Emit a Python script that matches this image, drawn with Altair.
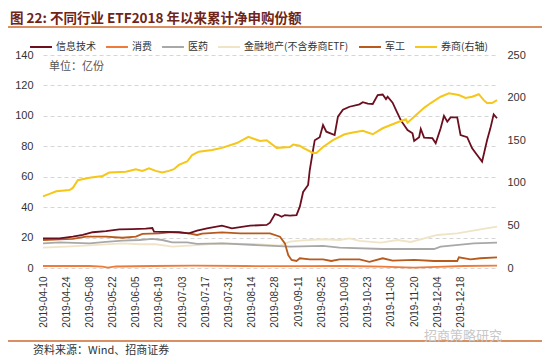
import altair as alt
import pandas as pd

SERIES = ["信息技术", "消费", "医药", "金融地产(不含券商ETF)", "军工", "券商(右轴)"]
COLORS = ["#6B0E1E", "#EE7B3A", "#A8A8A8", "#EFE4C6", "#B85A1C", "#F6C619"]

X_START = "2019-04-10"
X_END = "2020-01-09"
TICK_DATES = ["2019-04-10", "2019-04-24", "2019-05-08", "2019-05-22", "2019-06-05",
              "2019-06-19", "2019-07-03", "2019-07-17", "2019-07-31", "2019-08-14",
              "2019-08-28", "2019-09-11", "2019-09-25", "2019-10-09", "2019-10-23",
              "2019-11-06", "2019-11-20", "2019-12-04", "2019-12-18"]
LEFT_TICKS = [0, 20, 40, 60, 80, 100, 120, 140]
RIGHT_TICKS = [0, 50, 100, 150, 200, 250]

it_dates = ["2019-04-10", "2019-04-20", "2019-04-28", "2019-05-04", "2019-05-10",
            "2019-05-18", "2019-05-26", "2019-06-03", "2019-06-11", "2019-06-15",
            "2019-06-16", "2019-06-23", "2019-07-01", "2019-07-07", "2019-07-12",
            "2019-07-18", "2019-07-27", "2019-08-02", "2019-08-13", "2019-08-23",
            "2019-08-25", "2019-08-28", "2019-08-30", "2019-09-01", "2019-09-03",
            "2019-09-06", "2019-09-10", "2019-09-12", "2019-09-14", "2019-09-17",
            "2019-09-18", "2019-09-20", "2019-09-21", "2019-09-24", "2019-09-26",
            "2019-09-28", "2019-10-03", "2019-10-05", "2019-10-08", "2019-10-12",
            "2019-10-18", "2019-10-20", "2019-10-23", "2019-10-26", "2019-10-29",
            "2019-11-01", "2019-11-03", "2019-11-04", "2019-11-07", "2019-11-09",
            "2019-11-12", "2019-11-16", "2019-11-19", "2019-11-20", "2019-11-23",
            "2019-11-24", "2019-11-26", "2019-12-01", "2019-12-03", "2019-12-06",
            "2019-12-08", "2019-12-10", "2019-12-12", "2019-12-16", "2019-12-18",
            "2019-12-22", "2019-12-25", "2019-12-28", "2019-12-31", "2020-01-03",
            "2020-01-05", "2020-01-07", "2020-01-09"]
it_vals = [19.5, 19.5, 20.6, 21.7, 23.5,
           24.3, 25.4, 25.6, 25.9, 26.3,
           23.9, 23.7, 23.5, 22.8, 24.5,
           26.1, 27.8, 26.1, 27.8, 28.3,
           29.8, 35.5, 34.8, 33.7, 34.8,
           34.4, 34.8, 40.3, 50.0, 54.6,
           64.4, 77.6, 84.0, 86.0, 94.0,
           89.6, 87.4, 99.5, 104.0, 106.0,
           107.6, 109.0, 108.0, 107.8, 113.7,
           114.0, 111.0, 112.6, 108.7, 104.0,
           97.0, 90.7, 88.5, 83.5, 86.0,
           91.4, 85.7, 85.3, 82.0, 91.8,
           100.0, 96.2, 99.0, 99.0, 87.4,
           86.0, 78.7, 74.3, 69.9, 84.0,
           91.8, 101.0, 98.4]

xf_dates = ["2019-04-10", "2019-05-08", "2019-05-16", "2019-05-19", "2019-05-24",
            "2019-06-15", "2019-07-10", "2019-08-10", "2019-09-10", "2019-10-10",
            "2019-11-01", "2019-11-14", "2019-11-20", "2019-12-04", "2019-12-20",
            "2020-01-09"]
xf_vals = [1.3, 1.3, 0.9, 0.3, 1.0,
           1.3, 1.5, 1.3, 1.2, 1.3,
           0.9, 0.4, 0.2, 0.8, 1.3,
           1.5]

yy_dates = ["2019-04-10", "2019-04-20", "2019-05-08", "2019-05-18", "2019-05-28",
            "2019-06-07", "2019-06-15", "2019-06-21", "2019-06-27", "2019-07-06",
            "2019-07-12", "2019-07-27", "2019-08-17", "2019-09-06", "2019-09-26",
            "2019-10-06", "2019-11-01", "2019-12-02", "2019-12-06", "2019-12-26",
            "2020-01-09"]
yy_vals = [16.2, 16.9, 16.2, 17.2, 18.0,
           18.4, 19.1, 18.4, 16.9, 16.9,
           15.8, 16.2, 15.1, 14.0, 14.5,
           13.4, 12.5, 12.5, 14.0, 16.2,
           16.7]

jr_dates = ["2019-04-10", "2019-04-24", "2019-05-08", "2019-05-28", "2019-06-07",
            "2019-06-17", "2019-06-27", "2019-07-07", "2019-07-12", "2019-07-27",
            "2019-08-17", "2019-08-31", "2019-09-06", "2019-09-12", "2019-09-26",
            "2019-10-06", "2019-10-12", "2019-10-18", "2019-10-31", "2019-11-10",
            "2019-11-18", "2019-12-04", "2019-12-16", "2019-12-30", "2020-01-09"]
jr_vals = [13.4, 14.0, 14.9, 16.2, 15.6,
           15.6, 14.0, 14.7, 15.1, 16.2,
           15.6, 14.7, 17.3, 18.0, 18.9,
           18.4, 19.5, 17.8, 16.7, 18.4,
           17.1, 21.7, 22.8, 25.4, 27.2]

jg_dates = ["2019-04-10", "2019-04-20", "2019-04-28", "2019-05-06", "2019-05-18",
            "2019-05-28", "2019-06-05", "2019-06-09", "2019-06-19", "2019-06-25",
            "2019-07-01", "2019-07-07", "2019-07-12", "2019-07-15", "2019-07-27",
            "2019-08-07", "2019-08-17", "2019-08-25", "2019-08-31", "2019-09-03",
            "2019-09-05", "2019-09-07", "2019-09-10", "2019-09-12", "2019-09-18",
            "2019-09-26", "2019-10-01", "2019-10-06", "2019-10-18", "2019-10-24",
            "2019-11-01", "2019-11-07", "2019-11-20", "2019-12-02", "2019-12-16",
            "2019-12-17", "2019-12-24", "2019-12-30", "2020-01-09"]
jg_vals = [18.4, 18.9, 19.1, 20.6, 20.6,
           19.9, 20.6, 22.4, 22.8, 23.4,
           23.4, 22.8, 21.7, 22.6, 23.4,
           22.8, 22.8, 22.8, 20.6, 16.2,
           8.5, 5.3, 4.6, 6.4, 5.7,
           5.7, 4.6, 5.7, 5.7, 4.1,
           6.4, 4.8, 5.3, 4.6, 4.6,
           7.0, 5.7, 6.4, 7.0]

qs_dates = ["2019-04-10", "2019-04-14", "2019-04-18", "2019-04-26", "2019-04-28",
            "2019-05-01", "2019-05-08", "2019-05-16", "2019-05-20", "2019-05-30",
            "2019-06-05", "2019-06-09", "2019-06-13", "2019-06-17", "2019-06-21",
            "2019-06-25", "2019-06-28", "2019-07-01", "2019-07-06", "2019-07-09",
            "2019-07-13", "2019-07-21", "2019-07-27", "2019-08-05", "2019-08-12",
            "2019-08-19", "2019-08-23", "2019-08-29", "2019-09-06", "2019-09-08",
            "2019-09-12", "2019-09-14", "2019-09-20", "2019-09-22", "2019-09-26",
            "2019-10-02", "2019-10-09", "2019-10-14", "2019-10-20", "2019-10-26",
            "2019-11-01", "2019-11-10", "2019-11-15", "2019-11-16", "2019-11-20",
            "2019-11-26", "2019-11-30", "2019-12-06", "2019-12-11", "2019-12-17",
            "2019-12-21", "2019-12-25", "2019-12-29", "2020-01-01", "2020-01-03",
            "2020-01-06", "2020-01-09"]
qs_vals = [84.0, 87.0, 90.0, 91.5, 94.0,
           103.0, 106.0, 108.0, 112.0, 113.0,
           116.0, 114.0, 117.0, 114.0, 112.0,
           114.0, 116.0, 121.0, 125.0, 132.6,
           136.5, 138.5, 141.0, 146.7, 154.0,
           149.0, 150.0, 141.0, 142.0, 145.0,
           143.5, 141.0, 135.0, 135.0, 142.0,
           150.0, 157.0, 159.0, 161.0, 157.0,
           164.0, 171.0, 174.5, 170.5, 177.6,
           188.0, 193.6, 201.0, 205.0, 203.0,
           199.5, 201.0, 204.0, 197.0, 193.6,
           193.6, 197.0]

TITLE = "图 22:  不同行业 ETF2018 年以来累计净申购份额"
UNIT = "单位：亿份"
SOURCE = "资料来源：Wind、招商证券"
WATERMARK = "招商策略研究"


def ms(dates):
    """UTC milliseconds for ISO date strings."""
    return [int(pd.Timestamp(d, tz="UTC").value // 1_000_000) for d in dates]


# ---------------- data frames ----------------
left_parts = []
for name, d, v in [(SERIES[3], jr_dates, jr_vals), (SERIES[2], yy_dates, yy_vals),
                   (SERIES[1], xf_dates, xf_vals), (SERIES[4], jg_dates, jg_vals),
                   (SERIES[0], it_dates, it_vals)]:
    left_parts.append(pd.DataFrame({"t": ms(d), "value": v, "series": name}))
left_df = pd.concat(left_parts, ignore_index=True)
right_df = pd.DataFrame({"t": ms(qs_dates), "value": qs_vals, "series": SERIES[5]})

color_scale = alt.Scale(domain=SERIES, range=COLORS)
legend = alt.Legend(title=None, orient="none", legendX=-14, legendY=-20,
                    direction="horizontal", columns=6, symbolType="stroke",
                    symbolStrokeWidth=2, symbolSize=480, labelFont="Noto Sans CJK SC",
                    labelFontSize=10, labelColor="#333333", columnPadding=6,
                    labelOffset=3, labelLimit=300)

x_enc = alt.X("t:Q",
              scale=alt.Scale(domain=ms([X_START, X_END]), nice=False, zero=False),
              axis=alt.Axis(values=ms(TICK_DATES),
                            labelExpr="utcFormat(datum.value, '%Y-%m-%d')",
                            labelAngle=270, labelAlign="right", labelBaseline="middle",
                            labelFlush=False, domain=False, ticks=False, grid=False,
                            labelOverlap=False, labelFont="Liberation Sans",
                            labelFontSize=10, labelColor="#333333", labelPadding=8,
                            title=None))

left_chart = alt.Chart(left_df).mark_line(strokeWidth=1.8).encode(
    x=x_enc,
    y=alt.Y("value:Q", scale=alt.Scale(domain=[0, 140]),
            axis=alt.Axis(values=LEFT_TICKS, grid=True, gridDash=[4, 3],
                          gridColor="#D6D6D6", domain=False, ticks=False,
                          labelPadding=10, labelFont="Liberation Sans",
                          labelFontSize=11, labelColor="#333333", title=None)),
    color=alt.Color("series:N", scale=color_scale, legend=legend),
    detail="series:N",
)

right_chart = alt.Chart(right_df).mark_line(strokeWidth=2).encode(
    x=x_enc,
    y=alt.Y("value:Q", scale=alt.Scale(domain=[0, 250]),
            axis=alt.Axis(orient="right", values=RIGHT_TICKS, grid=False,
                          domain=False, ticks=False, labelPadding=10,
                          labelFont="Liberation Sans", labelFontSize=11,
                          labelColor="#333333", title=None)),
    color=alt.Color("series:N", scale=color_scale, legend=legend),
)


def text_layer(txt, x, y, size, color, weight="normal", align="left", font="Noto Sans CJK SC"):
    return alt.Chart(pd.DataFrame({"t": [txt]})).mark_text(
        align=align, baseline="middle", fontSize=size, color=color,
        fontWeight=weight, font=font
    ).encode(text="t:N", x=alt.value(x), y=alt.value(y))


def rule_layer(y):
    return alt.Chart(pd.DataFrame({"a": [0]})).mark_rule(
        color="#CD6A2E", strokeWidth=1.5
    ).encode(x=alt.value(-35), x2=alt.value(499), y=alt.value(y))


title_txt = text_layer(TITLE, -33, -36, 13.5, "#6E2418", weight="bold")
unit_txt = text_layer(UNIT, 6, 12, 11, "#555555")
source_txt = text_layer(SOURCE, -10, 296, 11, "#333333")
wm_txt = text_layer(WATERMARK, 420, 281, 13, "#C8C8C8", align="center")

chart = alt.layer(
    left_chart, right_chart, title_txt, rule_layer(-28), unit_txt,
    rule_layer(286), wm_txt, source_txt
).resolve_scale(y="independent").properties(
    width=454, height=213,
    autosize=alt.AutoSizeParams(type="none"),
    padding={"left": 35, "top": 47, "right": 45, "bottom": 90},
    background="white",
).configure_view(stroke=None)

chart.save("out.html", embed_options={"renderer": "svg", "actions": False})
